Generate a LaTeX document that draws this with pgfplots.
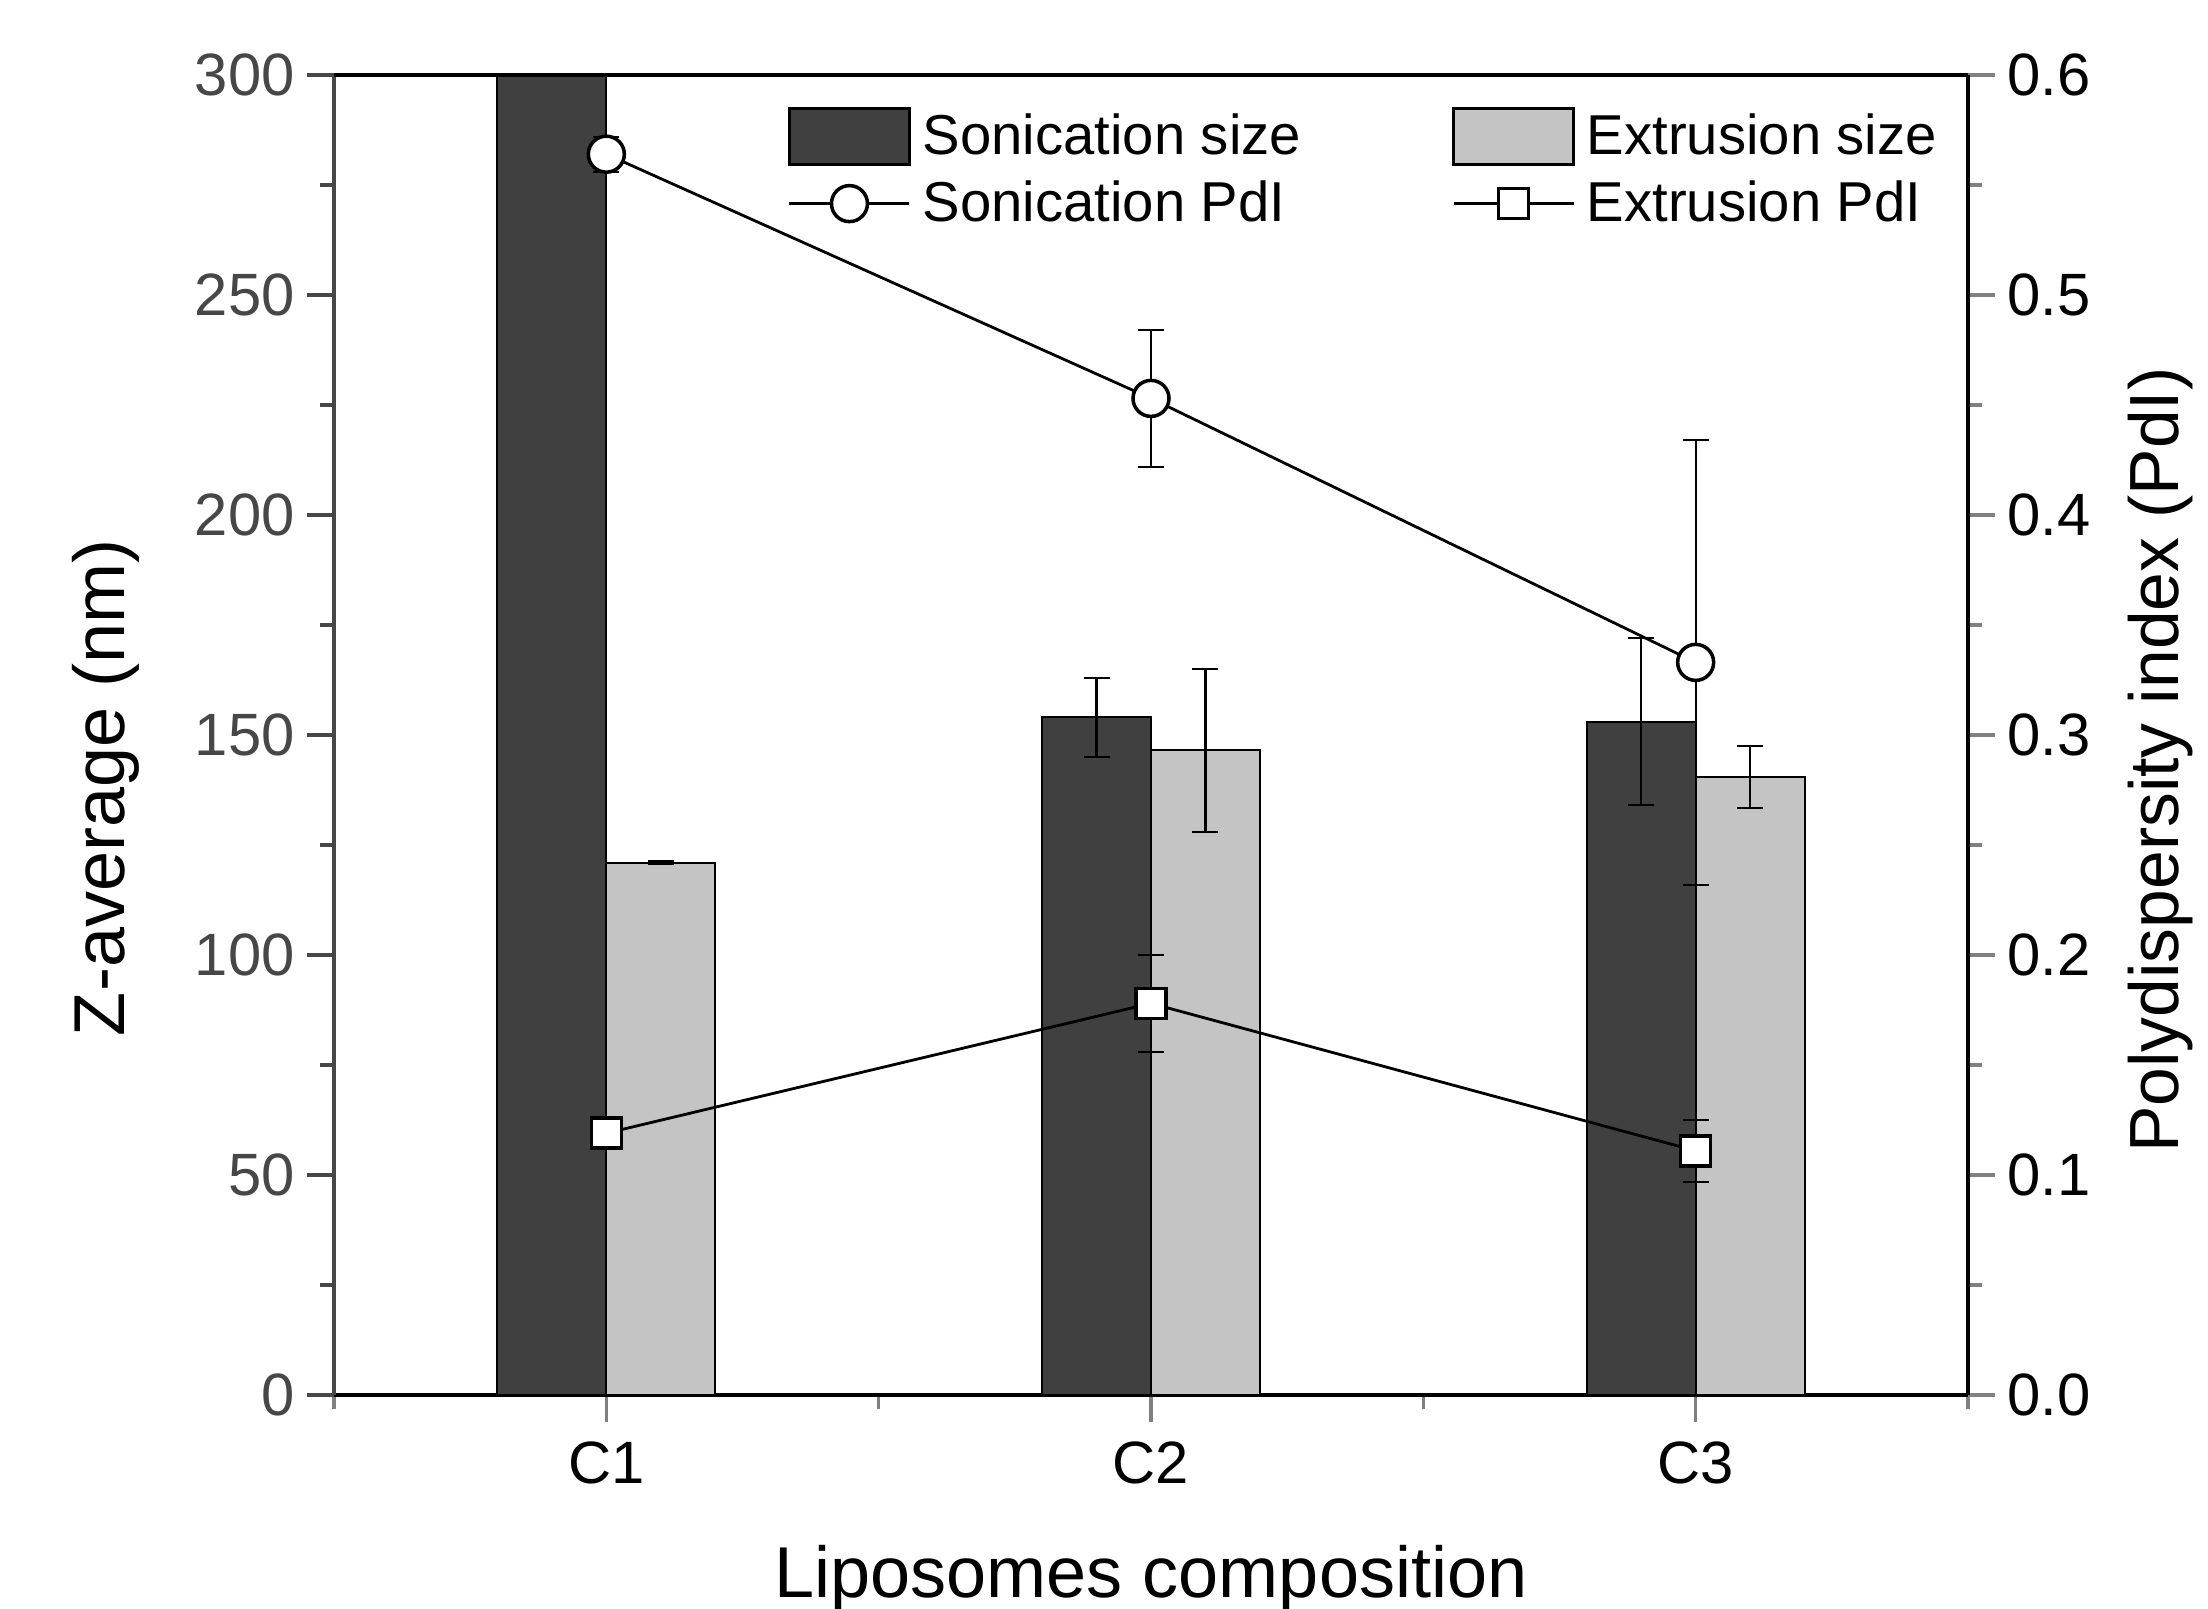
\documentclass[border=0pt]{standalone}
\usepackage{fontspec}
\setmainfont{Liberation Sans}
\usepackage{pgfplots}
\pgfplotsset{compat=1.18}

\definecolor{sonic}{HTML}{404040}
\definecolor{extru}{HTML}{C4C4C4}
\definecolor{axgray}{HTML}{474747}

\pgfplotsset{
  every non boxed x axis/.style={},
  every non boxed y axis/.style={},
  common/.style={
    width=16.34cm, height=13.2cm, scale only axis,
    xmin=0.5, xmax=3.5,
    tick align=outside,
    major tick length=0.27cm, minor tick length=0.14cm,
    every tick/.append style={line width=1pt},
    tick label style={font=\fontsize{17}{20}\selectfont},
    label style={font=\fontsize{20.5}{24}\selectfont},
    /pgf/number format/assume math mode=true,
    axis line style={line width=1.15pt, -},
  },
  ebar/.style={error bars/.cd, y dir=both, y explicit,
    error bar style={line width=0.6pt, black, solid},
    error mark options={rotate=90, mark size=0.13cm, line width=0.6pt, black},
    /pgfplots/.cd},
  lineleg/.style={legend image code/.code={%
    \draw[mark repeat=2, mark phase=2, ##1] plot coordinates {(0cm,0cm) (0.6cm,0cm) (1.2cm,0cm)};}},
  barleg/.style={legend image code/.code={%
    \draw[##1, line width=0.6pt] (0cm,-0.28cm) rectangle (1.2cm,0.28cm);}},
}

\begin{document}
\begin{tikzpicture}
% sizes (left axis); bars sit 0.1 either side of each composition
\begin{axis}[common,
  axis x line=bottom, axis y line=left,
  ymin=0, ymax=300, ytick={0,50,100,150,200,250,300}, minor y tick num=1,
  xtick={1,2,3}, xticklabels={C1,C2,C3},
  minor xtick={0.5,1.5,2.5,3.5},
  xticklabel style={yshift=-0.07cm},
  y axis line style={draw=axgray},
  yticklabel style={text=axgray},
  ytick style={draw=axgray},
  xlabel={Liposomes composition},
  ylabel={Z-average (nm)},
  xlabel style={at={(axis description cs:0.5,-0.139)}, anchor=center},
  ylabel style={at={(axis description cs:-0.1395,0.46)}, anchor=center, rotate=0},
]
\addplot[ybar, bar width=0.2, bar shift=0, fill=sonic, draw=black, line width=0.6pt, ebar]
  coordinates {(0.9,330) +- (0,0) (1.9,154) +- (0,9) (2.9,153) +- (0,19)};
\addplot[ybar, bar width=0.2, bar shift=0, fill=extru, draw=black, line width=0.6pt, ebar]
  coordinates {(1.1,121) +- (0,0.3) (2.1,146.5) +- (0,18.5) (3.1,140.5) +- (0,7)};
\end{axis}

% PdI (right axis)
\begin{axis}[common,
  axis x line=top, axis y line=right,
  xtick=\empty,
  ymin=0, ymax=0.6, ytick={0,0.1,0.2,0.3,0.4,0.5,0.6}, minor y tick num=1,
  yticklabel style={/pgf/number format/.cd, fixed, fixed zerofill, precision=1},
  ylabel={Polydispersity index (PdI)},
  ylabel style={at={(axis description cs:1.118,0.481)}, anchor=center, rotate=0,
    font=\fontsize{19.8}{23}\selectfont},
  legend columns=2,
  legend style={at={(axis description cs:0.271,0.982)}, anchor=north west,
    draw=none, fill=none, font=\fontsize{16}{19}\selectfont, row sep=0.07cm,
    nodes={inner xsep=0.12cm},
    /tikz/every even column/.append style={column sep=1.39cm}},
  legend cell align=left,
]
\addlegendimage{barleg, fill=sonic, draw=black}
\addlegendentry{Sonication size}
\addlegendimage{barleg, fill=extru, draw=black}
\addlegendentry{Extrusion size}

\addplot[black, line width=0.8pt, mark=*, mark size=0.18cm,
  mark options={fill=white, draw=black, line width=1pt, solid}, lineleg, ebar]
  coordinates {(1,0.564) +- (0,0.008) (2,0.453) +- (0,0.031) (3,0.333) +- (0,0.101)};
\addlegendentry{Sonication PdI}
\addplot[black, line width=0.8pt, mark=square*, mark size=0.15cm,
  mark options={fill=white, draw=black, line width=1pt, solid}, lineleg, ebar]
  coordinates {(1,0.119) +- (0,0.004) (2,0.178) +- (0,0.022) (3,0.111) +- (0,0.014)};
\addlegendentry{Extrusion PdI}
\end{axis}

\pgfresetboundingbox
\path (current axis.south west) ++(-3.34cm,-2.14cm) (current axis.north east) ++(2.40cm,0.75cm);
\end{tikzpicture}
\end{document}
